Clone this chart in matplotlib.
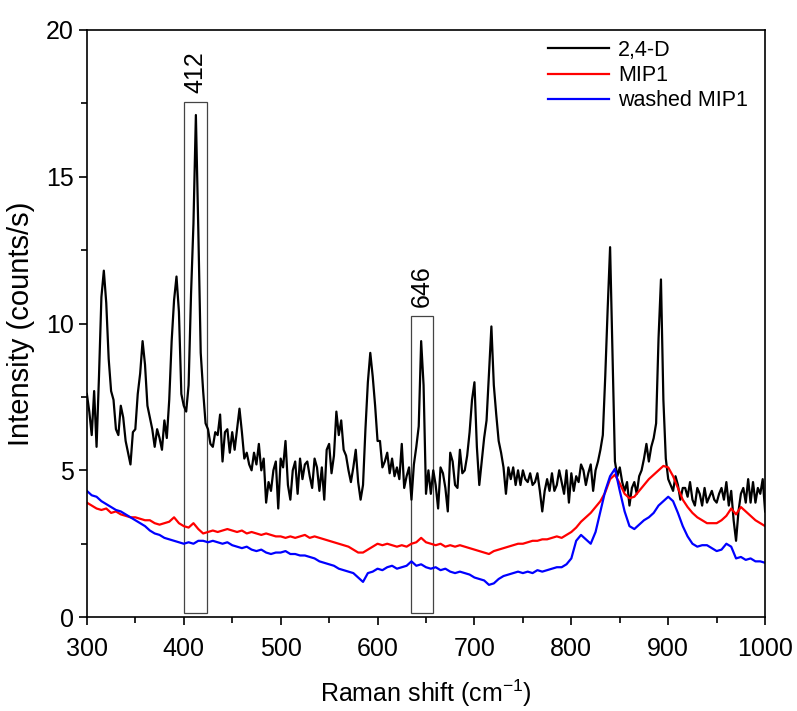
import numpy as np
import matplotlib
matplotlib.use("Agg")
from matplotlib import pyplot as plt
from matplotlib.patches import Rectangle

# Raman shift grids (cm-1)
x_dye = np.arange(300, 1000.1, 2.5)
x_mip = np.arange(300, 1000.1, 5)

# 2,4-D spectrum, every 2.5 cm-1
dye = [
  7.6, 7.0, 6.2, 7.7, 5.8, 8.2, 10.9, 11.8, 10.7, 8.8, 7.7, 7.4, 6.4, 6.2, 7.2, 6.8, 6.0, 5.6, 5.2, 6.3,
  6.4, 7.6, 8.3, 9.4, 8.6, 7.2, 6.8, 6.4, 5.8, 6.4, 6.1, 5.7, 6.7, 6.1, 7.4, 9.4, 10.8, 11.6, 10.4, 7.6,
  7.2, 7.0, 7.9, 11.0, 13.4, 17.1, 13.2, 9.0, 7.7, 6.6, 6.4, 5.9, 5.8, 6.3, 6.2, 6.9, 5.3, 6.3, 6.4, 5.6,
  6.3, 5.7, 6.4, 7.1, 6.3, 5.4, 5.6, 5.2, 5.0, 5.6, 5.2, 5.9, 5.0, 5.4, 3.9, 4.6, 4.3, 5.0, 5.3, 3.7,
  5.4, 5.1, 6.0, 4.5, 4.0, 5.0, 5.3, 4.2, 5.4, 4.7, 5.2, 5.3, 4.8, 4.4, 5.4, 5.1, 4.3, 5.1, 4.0, 5.7,
  5.9, 4.9, 5.5, 7.0, 6.2, 6.7, 5.7, 5.5, 5.0, 4.6, 5.1, 5.7, 4.6, 4.0, 4.5, 6.4, 8.0, 9.0, 8.2, 7.2,
  6.0, 6.0, 5.1, 5.3, 5.6, 4.9, 5.4, 4.8, 5.1, 4.7, 5.9, 4.4, 4.8, 5.1, 4.0, 5.2, 5.8, 6.5, 9.4, 7.9,
  4.2, 5.0, 4.2, 5.0, 4.5, 3.7, 5.1, 4.9, 4.4, 3.6, 5.6, 5.3, 4.5, 4.4, 5.7, 4.9, 5.0, 5.5, 6.3, 7.4,
  8.0, 5.8, 4.5, 5.3, 6.1, 6.7, 8.3, 9.9, 7.9, 6.9, 6.0, 5.6, 5.1, 4.2, 5.1, 4.7, 5.1, 4.5, 5.0, 4.5,
  5.0, 4.7, 4.6, 4.9, 4.5, 4.6, 4.9, 4.3, 3.6, 4.3, 4.7, 4.3, 4.9, 4.3, 4.5, 5.0, 4.6, 4.2, 5.0, 3.9,
  4.9, 4.3, 4.8, 4.6, 5.2, 5.0, 4.5, 4.9, 5.2, 4.3, 5.0, 5.3, 5.7, 6.2, 8.2, 10.5, 12.6, 9.0, 5.3, 4.8,
  5.1, 4.6, 4.3, 4.6, 3.8, 4.4, 4.6, 4.2, 4.8, 5.0, 5.4, 5.9, 5.3, 5.8, 6.1, 6.6, 9.5, 11.5, 7.4, 5.4,
  4.7, 4.5, 4.3, 4.8, 4.5, 4.0, 4.4, 4.4, 4.1, 4.6, 4.0, 3.8, 4.4, 4.2, 3.8, 4.4, 3.9, 4.1, 4.3, 4.0,
  3.9, 4.2, 4.4, 4.0, 4.6, 3.8, 4.3, 3.3, 2.6, 3.6, 4.2, 4.4, 3.9, 4.7, 3.9, 4.6, 3.9, 4.4, 4.2, 4.7,
  3.6,
]

# MIP1, every 5 cm-1
mip1 = [
  3.9, 3.8, 3.7, 3.65, 3.7, 3.55, 3.6, 3.5, 3.45, 3.4, 3.4, 3.35, 3.3, 3.3, 3.2, 3.15, 3.2, 3.25, 3.4, 3.2,
  3.1, 3.05, 3.2, 3.0, 2.85, 2.9, 2.95, 2.9, 2.95, 3.0, 2.95, 2.9, 2.95, 2.85, 2.9, 2.85, 2.8, 2.85, 2.8, 2.75,
  2.75, 2.7, 2.75, 2.7, 2.75, 2.8, 2.7, 2.75, 2.7, 2.65, 2.6, 2.55, 2.5, 2.45, 2.4, 2.3, 2.2, 2.2, 2.3, 2.4,
  2.5, 2.45, 2.5, 2.45, 2.4, 2.45, 2.4, 2.5, 2.55, 2.7, 2.55, 2.5, 2.45, 2.5, 2.4, 2.45, 2.4, 2.45, 2.4, 2.35,
  2.3, 2.25, 2.2, 2.15, 2.25, 2.3, 2.35, 2.4, 2.45, 2.5, 2.5, 2.55, 2.6, 2.6, 2.65, 2.65, 2.7, 2.75, 2.7, 2.8,
  2.9, 3.05, 3.25, 3.4, 3.55, 3.75, 3.95, 4.25, 4.7, 4.85, 4.55, 4.2, 4.05, 4.1, 4.3, 4.5, 4.7, 4.85, 5.0, 5.15,
  5.1, 4.8, 4.4, 4.0, 3.75, 3.55, 3.4, 3.3, 3.2, 3.2, 3.2, 3.3, 3.45, 3.7, 3.5, 3.75, 3.6, 3.45, 3.3, 3.2,
  3.1,
]

# washed MIP1, every 5 cm-1
washed = [
  4.3, 4.15, 4.1, 3.95, 3.85, 3.75, 3.65, 3.6, 3.5, 3.4, 3.3, 3.2, 3.1, 2.95, 2.85, 2.8, 2.7, 2.65, 2.6, 2.55,
  2.5, 2.55, 2.5, 2.6, 2.6, 2.55, 2.6, 2.55, 2.5, 2.55, 2.45, 2.4, 2.35, 2.4, 2.3, 2.25, 2.3, 2.2, 2.15, 2.2,
  2.2, 2.25, 2.15, 2.15, 2.1, 2.1, 2.05, 2.0, 1.9, 1.85, 1.8, 1.75, 1.65, 1.6, 1.55, 1.5, 1.35, 1.2, 1.5, 1.55,
  1.65, 1.6, 1.7, 1.75, 1.65, 1.7, 1.75, 1.9, 1.75, 1.8, 1.7, 1.65, 1.7, 1.6, 1.65, 1.55, 1.5, 1.55, 1.5, 1.45,
  1.35, 1.3, 1.25, 1.1, 1.15, 1.3, 1.4, 1.45, 1.5, 1.55, 1.5, 1.55, 1.5, 1.6, 1.55, 1.6, 1.65, 1.7, 1.7, 1.8,
  2.0, 2.6, 2.8, 2.65, 2.5, 2.9, 3.6, 4.3, 4.8, 5.05, 4.3, 3.6, 3.1, 3.0, 3.15, 3.3, 3.4, 3.55, 3.8, 3.95,
  4.1, 3.95, 3.55, 3.1, 2.75, 2.5, 2.4, 2.45, 2.45, 2.35, 2.25, 2.3, 2.5, 2.4, 2.0, 2.05, 1.95, 2.0, 1.9, 1.9,
  1.85,
]

# marked peaks and the top of their boxes
peak_pos = [412, 646]
peak_top = [17.55, 10.25]

plt.rcParams['font.family'] = ['Liberation Sans', 'DejaVu Sans']
plt.rcParams['mathtext.fontset'] = 'custom'
plt.rcParams['mathtext.rm'] = 'Liberation Sans'
plt.rcParams['mathtext.it'] = 'Liberation Sans:italic'

fig = plt.figure(figsize=(7.97, 7.11), dpi=100)
ax = fig.add_axes([0.109, 0.132, 0.851, 0.826])

ax.plot(x_dye, dye, color='black', lw=1.6, label='2,4-D')
ax.plot(x_mip, mip1, color='#ff0000', lw=1.6, label='MIP1')
ax.plot(x_mip, washed, color='#0000ff', lw=1.6, label='washed MIP1')

for p, top in zip(peak_pos, peak_top):
  ax.add_patch(Rectangle((p - 11.5, 0.15), 23, top - 0.15, fill=False,
                         edgecolor='#444444', lw=0.9))
  ax.text(p, top + 0.3, str(p), rotation=90, ha='center', va='bottom',
          fontsize=18)

ax.set_xlim(300, 1000)
ax.set_ylim(0, 20)
ax.set_xticks(np.arange(300, 1001, 100))
ax.set_xticks(np.arange(350, 1000, 100), minor=True)
ax.set_yticks(np.arange(0, 21, 5))
ax.set_yticks(np.arange(2.5, 20, 5), minor=True)
ax.tick_params(which='both', direction='out', width=1.2, colors='black')
ax.tick_params(which='major', length=6, labelsize=18)
ax.tick_params(axis='x', which='major', pad=8)
ax.tick_params(which='minor', length=4)
for s in ax.spines.values():
  s.set_linewidth(1.2)

ax.set_xlabel('Raman shift (cm$^{-1}$)', fontsize=18, labelpad=12)
ax.set_ylabel('Intensity (counts/s)', fontsize=21, labelpad=8)

ax.legend(loc='upper left', bbox_to_anchor=(0.68, 0.983), frameon=False,
          handlelength=2.85, handletextpad=0.4,
          labelspacing=0.2, borderpad=0, borderaxespad=0,
          prop={'size': 15.5})

fig.savefig('out.png', dpi=100)
